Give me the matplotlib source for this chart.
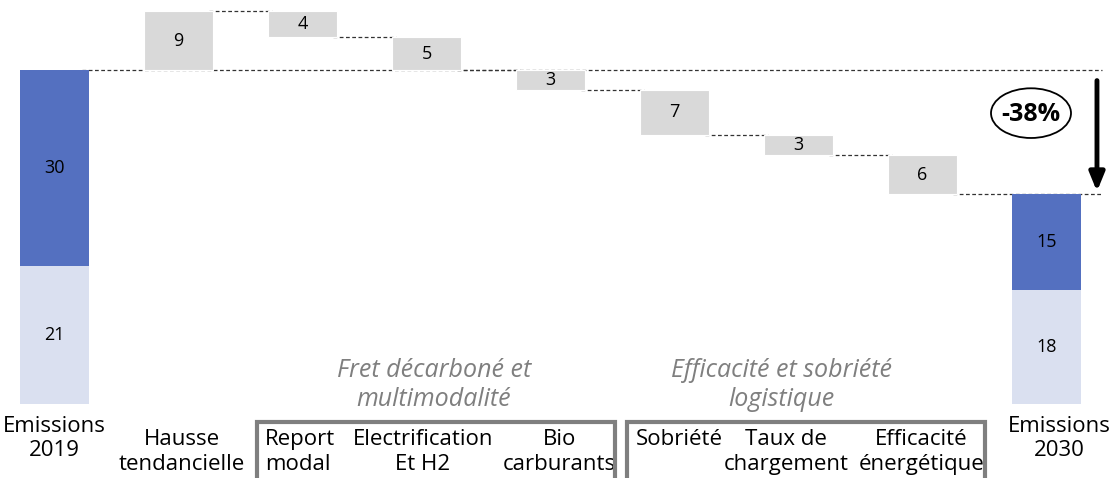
import matplotlib
matplotlib.use("Agg")
import matplotlib.pyplot as plt
from matplotlib.patches import Ellipse, Rectangle

plt.rcParams['font.family'] = ['Open Sans', 'DejaVu Sans']

# data
start_low, start_high = 21, 30          # Emissions 2019 (two parts)
steps = [9, -4, -5, -3, -7, -3, -6]     # waterfall steps
step_labels = ['9', '4', '5', '3', '7', '3', '6']
end_low, end_high = 17.4, 14.6          # Emissions 2030 (two parts)
end_labels = ['18', '15']
categories = ['Emissions\n2019', 'Hausse\ntendancielle', 'Report\nmodal',
              'Electrification\nEt H2', 'Bio\ncarburants', 'Sobriété',
              'Taux de\nchargement', 'Efficacité\nénergétique', 'Emissions\n2030']
groups = ['Fret décarboné et\nmultimodalité', 'Efficacité et sobriété\nlogistique']
change_label = '-38%'

dark = '#5470c0'
light = '#dae0f0'
grey = '#d9d9d9'
w = 0.55
fs_val = 13
fs_cat = 16
ls_cat = 1.2

fig = plt.figure(figsize=(11.09, 4.78), dpi=100)
ax = fig.add_axes([0, 0, 1, 1])
ax.set_xlim(-0.4395, 8.504)
ax.set_ylim(-11.39, 61.7)
ax.axis('off')

# first bar
ax.bar(0, start_low, w, color=light)
ax.bar(0, start_high, w, bottom=start_low, color=dark)
ax.text(0, start_low / 2, str(start_low), ha='center', va='center', fontsize=fs_val)
ax.text(0, start_low + start_high / 2, str(start_high), ha='center', va='center', fontsize=fs_val)

level = start_low + start_high
ax.plot([0 + w / 2 - 0.05, 8.45], [level, level], color='#333333', lw=0.9, ls=(0, (3, 2)), zorder=0)

for i, (s, lab) in enumerate(zip(steps, step_labels), start=1):
    new = level + s
    bottom = min(level, new)
    ax.bar(i, abs(s), w, bottom=bottom, color=grey, edgecolor='white', lw=0.8, zorder=2)
    ax.text(i, bottom + abs(s) / 2, lab, ha='center', va='center', fontsize=fs_val, zorder=3)
    # connector to next bar
    if i < len(steps):
        ax.plot([i + w / 2 - 0.03, i + 1 - w / 2 + 0.03], [new, new], color='#333333', lw=0.9,
                ls=(0, (3, 2)), zorder=1)
    level = new

ax.plot([len(steps) + w / 2 - 0.03, 8.45], [level, level], color='#333333', lw=0.9, ls=(0, (3, 2)), zorder=0)

# last bar
n = len(steps) + 1
ax.bar(n, end_low, w, color=light, zorder=2)
ax.bar(n, end_high, w, bottom=end_low, color=dark, zorder=2)
ax.text(n, end_low / 2, end_labels[0], ha='center', va='center', fontsize=fs_val, zorder=3)
ax.text(n, end_low + end_high / 2, end_labels[1], ha='center', va='center', fontsize=fs_val, zorder=3)

# arrow and percentage
ax.annotate('', xy=(8.407, end_low + end_high), xytext=(8.407, start_low + start_high - 1.2),
            arrowprops=dict(arrowstyle='-|>,head_width=0.45,head_length=1.1', color='black', lw=3.5))
ax.add_patch(Ellipse((7.875, 44.4), 0.645, 7.6, fill=False, ec='black', lw=1.3))
ax.text(7.875, 44.2, change_label, ha='center', va='center', fontsize=18, fontweight='bold')

# category labels
top_row = -3.95
ax.text(0, -1.95, categories[0], ha='center', va='top', fontsize=fs_cat, linespacing=ls_cat)
ax.text(1.03, top_row, categories[1], ha='center', va='top', fontsize=fs_cat, linespacing=ls_cat)
ax.text(1.70, top_row, categories[2], ha='left', va='top', fontsize=fs_cat, linespacing=ls_cat)
ax.text(2.97, top_row, categories[3], ha='center', va='top', fontsize=fs_cat, linespacing=ls_cat)
ax.text(4.53, top_row, categories[4], ha='right', va='top', fontsize=fs_cat, linespacing=ls_cat,
        multialignment='center')
ax.text(4.69, top_row, categories[5], ha='left', va='top', fontsize=fs_cat)
ax.text(5.90, top_row, categories[6], ha='center', va='top', fontsize=fs_cat, linespacing=ls_cat)
ax.text(6.99, top_row, categories[7], ha='center', va='top', fontsize=fs_cat, linespacing=ls_cat)
ax.text(8.1, -1.95, categories[8], ha='center', va='top', fontsize=fs_cat, linespacing=ls_cat)

# group boxes and titles
ax.add_patch(Rectangle((1.633, -14), 2.887, 11.2, fill=False, ec='#7f7f7f', lw=3, zorder=4))
ax.add_patch(Rectangle((4.617, -14), 2.887, 11.2, fill=False, ec='#7f7f7f', lw=3, zorder=4))
ax.text(3.06, 7.0, groups[0], ha='center', va='top', fontsize=18, style='italic',
        color='#7f7f7f', linespacing=1.2)
ax.text(5.86, 7.0, groups[1], ha='center', va='top', fontsize=18, style='italic',
        color='#7f7f7f', linespacing=1.2)

fig.savefig('out.png', dpi=100)
